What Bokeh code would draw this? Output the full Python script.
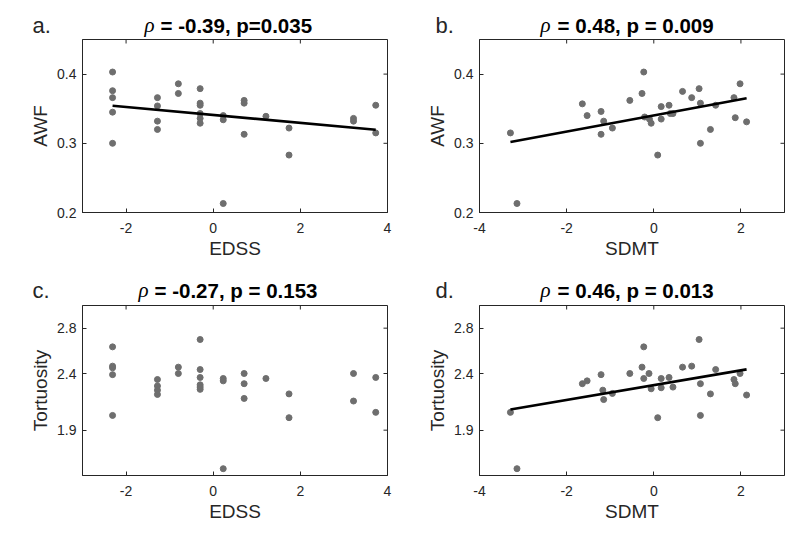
import numpy as np
from bokeh.plotting import figure
from bokeh.layouts import row, column
from bokeh.models import Range1d, FixedTicker, Label
from bokeh.embed import file_html
from bokeh.resources import INLINE

# ---------------- data ----------------
# panel a: EDSS vs AWF
edss_a = [-2.31, -2.31, -2.31, -2.31, -2.31,
          -1.28, -1.28, -1.28, -1.28,
          -0.80, -0.80,
          -0.30, -0.30, -0.30, -0.30, -0.30, -0.30,
          0.23, 0.23, 0.23,
          0.71, 0.71, 0.71,
          1.21,
          1.74, 1.74,
          3.22, 3.22,
          3.73, 3.73]
awf_a = [0.403, 0.376, 0.366, 0.345, 0.300,
         0.366, 0.354, 0.332, 0.320,
         0.386, 0.372,
         0.379, 0.358, 0.355, 0.343, 0.336, 0.329,
         0.340, 0.334, 0.213,
         0.362, 0.358, 0.313,
         0.339,
         0.322, 0.283,
         0.336, 0.332,
         0.355, 0.315]

# panel b: SDMT vs AWF
sdmt_b = [-3.29, -3.14, -1.64, -1.53, -1.21, -1.21, -1.15, -0.95, -0.55, -0.27,
          -0.23, -0.21, -0.10, -0.06, 0.09, 0.17, 0.17, 0.35, 0.38, 0.44,
          0.66, 0.87, 1.04, 1.07, 1.07, 1.30, 1.42, 1.84, 1.87, 1.98, 2.13]
awf_b = [0.315, 0.213, 0.357, 0.340, 0.346, 0.313, 0.332, 0.322, 0.362, 0.372,
         0.403, 0.338, 0.335, 0.329, 0.283, 0.353, 0.335, 0.355, 0.343, 0.343,
         0.375, 0.366, 0.379, 0.358, 0.300, 0.320, 0.355, 0.366, 0.337, 0.386, 0.331]

# panel c: EDSS vs Tortuosity
edss_c = [-2.31, -2.31, -2.31, -2.31, -2.31,
          -1.28, -1.28, -1.28, -1.28,
          -0.80, -0.80,
          -0.30, -0.30, -0.30, -0.30, -0.30, -0.30,
          0.23, 0.23, 0.23,
          0.71, 0.71, 0.71,
          1.21,
          1.74, 1.74,
          3.22, 3.22,
          3.73, 3.73]
tort_c = [2.635, 2.465, 2.45, 2.39, 2.03,
          2.347, 2.29, 2.253, 2.215,
          2.456, 2.40,
          2.70, 2.435, 2.365, 2.30, 2.28, 2.26,
          2.356, 2.335, 1.56,
          2.40, 2.31, 2.18,
          2.356,
          2.22, 2.01,
          2.40, 2.157,
          2.365, 2.057]

# panel d: SDMT vs Tortuosity
sdmt_d = [-3.29, -3.14, -1.64, -1.53, -1.21, -1.17, -1.15, -0.95, -0.55, -0.27,
          -0.23, -0.23, -0.11, -0.06, 0.09, 0.17, 0.17, 0.35, 0.44, 0.66,
          0.87, 1.04, 1.07, 1.07, 1.30, 1.42, 1.84, 1.87, 1.98, 2.13]
tort_d = [2.057, 1.56, 2.31, 2.335, 2.39, 2.253, 2.17, 2.224, 2.40, 2.456,
          2.635, 2.356, 2.40, 2.265, 2.01, 2.356, 2.274, 2.365, 2.28, 2.456,
          2.465, 2.70, 2.31, 2.03, 2.22, 2.435, 2.347, 2.31, 2.40, 2.21]

letters = ["a.", "b.", "c.", "d."]
rho_symbol = "\u03c1"
stats = ["= -0.39, p=0.035", "= 0.48, p = 0.009", "= -0.27, p = 0.153", "= 0.46, p = 0.013"]
x_labels = ["EDSS", "SDMT", "EDSS", "SDMT"]
y_labels = ["AWF", "AWF", "Tortuosity", "Tortuosity"]
x_ticks_edss = [-2, 0, 2, 4]
x_ticks_sdmt = [-4, -2, 0, 2]
y_ticks_awf = [0.2, 0.3, 0.4]
y_ticks_tort = [1.9, 2.4, 2.8]
show_fit = [True, True, False, True]

# ---------------- style ----------------
AX = "#262626"
DOT = "#6e6e6e"
FONT = "Liberation Sans"
FW = 305
TICK = 4


def fmt(t):
    return "%g" % t


def make_panel(i, xs, ys, xr, yr, xt, yt, width, height, bl, br, bb, fh):
    p = figure(width=width, height=height, output_backend="svg", toolbar_location=None,
               x_range=Range1d(*xr), y_range=Range1d(*yr),
               min_border_left=bl, min_border_right=br, min_border_top=1,
               min_border_bottom=bb, background_fill_color="white",
               border_fill_color="white")
    p.xgrid.visible = False
    p.ygrid.visible = False
    p.outline_line_color = AX
    p.outline_line_width = 1

    for ax, ticks in ((p.xaxis[0], xt), (p.yaxis[0], yt)):
        ax.ticker = FixedTicker(ticks=ticks)
        ax.major_label_overrides = {t: fmt(t) for t in ticks}
        ax.major_tick_in = TICK
        ax.major_tick_out = 0
        ax.minor_tick_line_color = None
        ax.axis_line_color = AX
        ax.major_tick_line_color = AX
        ax.major_label_text_font = FONT
        ax.major_label_text_font_size = "14px"
        ax.major_label_text_color = AX
        ax.axis_label_text_font = FONT
        ax.axis_label_text_font_size = "19px"
        ax.axis_label_text_font_style = "normal"
        ax.axis_label_text_color = AX
    p.xaxis[0].axis_label = x_labels[i]
    p.yaxis[0].axis_label = y_labels[i]
    p.xaxis[0].major_label_standoff = 10
    p.xaxis[0].axis_label_standoff = 2
    p.yaxis[0].major_label_standoff = 6
    p.yaxis[0].axis_label_standoff = 3

    # inward ticks on the top and right edges of the box (MATLAB "box on")
    dy = TICK * (yr[1] - yr[0]) / fh
    dx = TICK * (xr[1] - xr[0]) / FW
    p.segment(x0=xt, y0=[yr[1]] * len(xt), x1=xt, y1=[yr[1] - dy] * len(xt),
              line_color=AX, line_width=1)
    p.segment(x0=[xr[1]] * len(yt), y0=yt, x1=[xr[1] - dx] * len(yt), y1=yt,
              line_color=AX, line_width=1)

    p.scatter(xs, ys, size=6, color=DOT, line_color=DOT, marker="circle")

    if show_fit[i]:
        xa = np.array(xs)
        ya = np.array(ys)
        k, b = np.polyfit(xa, ya, 1)
        lx = np.array([xa.min(), xa.max()])
        p.line(lx, k * lx + b, line_color="black", line_width=2.6)
    return p


def mid_y(height, baseline_from_top, size):
    # text is anchored at its vertical middle; shift so the baseline lands where wanted
    return height - (baseline_from_top - 0.365 * size)


def make_header(i, width, height, letter_x, rho_x, text_x, base_letter, base_text):
    h = figure(width=width, height=height, output_backend="svg", toolbar_location=None,
               x_range=Range1d(0, width), y_range=Range1d(0, height),
               x_axis_location=None, y_axis_location=None, min_border=0,
               outline_line_color=None, background_fill_color="white",
               border_fill_color="white")
    h.xgrid.visible = False
    h.ygrid.visible = False
    h.add_layout(Label(x=letter_x, y=mid_y(height, base_letter, 22), text=letters[i],
                       text_font=FONT, text_font_size="22px", text_color=AX,
                       text_baseline="middle"))
    h.add_layout(Label(x=rho_x, y=mid_y(height, base_text, 21), text=rho_symbol,
                       text_font="Liberation Serif", text_font_style="italic",
                       text_font_size="21px", text_color="black", text_baseline="middle"))
    h.add_layout(Label(x=text_x, y=mid_y(height, base_text, 20.5), text=stats[i],
                       text_font=FONT, text_font_style="bold", text_font_size="20.5px",
                       text_color="black", text_baseline="middle"))
    return h


HH = 38
ha = make_header(0, 400, HH, 32, 144, 160, 33, 32)
hb = make_header(1, 392, HH, 35, 140, 157, 33, 32)
hc = make_header(2, 400, HH, 32, 138, 154, 32, 31)
hd = make_header(3, 392, HH, 35, 140, 157, 32, 31)

pa = make_panel(0, edss_a, awf_a, (-3, 4), (0.2, 0.45), x_ticks_edss, y_ticks_awf,
                400, 228, 82, 13, 54, 173)
pb = make_panel(1, sdmt_b, awf_b, (-4, 3), (0.2, 0.45), x_ticks_sdmt, y_ticks_awf,
                392, 228, 79, 8, 54, 173)
pc = make_panel(2, edss_c, tort_c, (-3, 4), (1.5, 3.0), x_ticks_edss, y_ticks_tort,
                400, 227, 82, 13, 56, 170)
pd = make_panel(3, sdmt_d, tort_d, (-4, 3), (1.5, 3.0), x_ticks_sdmt, y_ticks_tort,
                392, 227, 79, 8, 56, 170)

layout = column(row(ha, hb), row(pa, pb), row(hc, hd), row(pc, pd))

open("out.html", "w").write(file_html(layout, INLINE))
